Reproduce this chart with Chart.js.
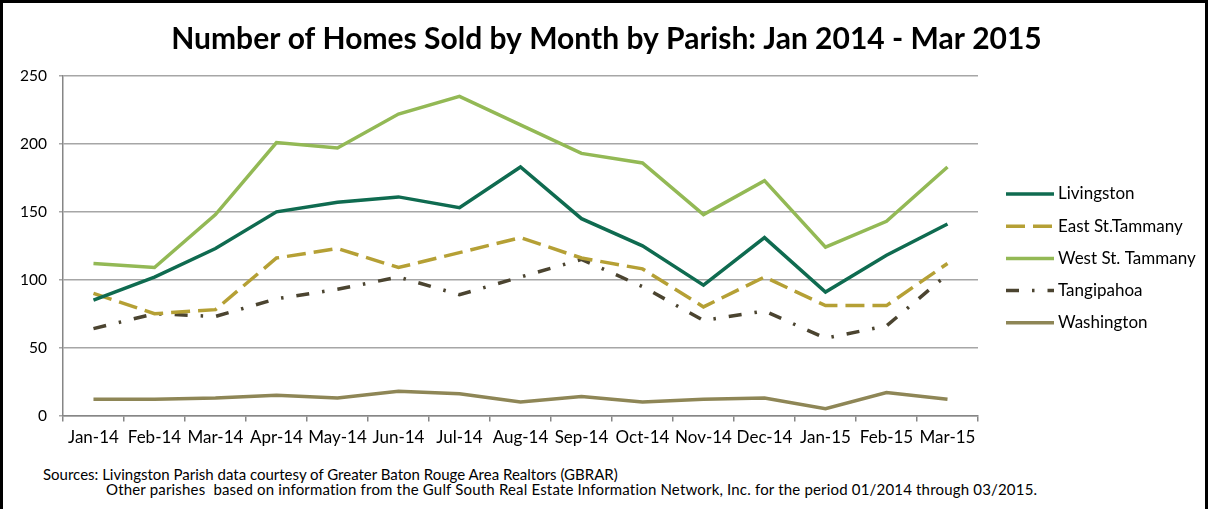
<!DOCTYPE html>
<html>
<head>
<meta charset="utf-8">
<script src="https://cdn.jsdelivr.net/npm/chart.js@4.4.1/dist/chart.umd.min.js"></script>
<style>
  html, body { margin: 0; padding: 0; background: #fff; }
  #frame {
    position: relative; width: 1202px; height: 506px;
    border-left: 3px solid #000; border-top: 3px solid #000; border-right: 3px solid #000;
    font-family: Lato, sans-serif;
  }
  #wrap { position: absolute; left: 0; top: 0; width: 1202px; height: 451px; }
  .src { position: absolute; font-size: 15px; line-height: 18px; color: #000; white-space: pre; }
</style>
</head>
<body>
<div id="frame">
  <div id="wrap"><canvas id="homesChart"></canvas></div>
  <div class="src" style="left:40px; top:462px;">Sources: Livingston Parish data courtesy of Greater Baton Rouge Area Realtors (GBRAR)</div>
  <div class="src" style="left:103px; top:477px; letter-spacing:0.18px;">Other parishes  based on information from the Gulf South Real Estate Information Network, Inc. for the period 01/2014 through 03/2015.</div>
</div>
<script>
// Data
const months = ["Jan-14", "Feb-14", "Mar-14", "Apr-14", "May-14", "Jun-14", "Jul-14", "Aug-14",
                "Sep-14", "Oct-14", "Nov-14", "Dec-14", "Jan-15", "Feb-15", "Mar-15"];
const livingston    = [85, 102, 123, 150, 157, 161, 153, 183, 145, 125, 96, 131, 91, 118, 141];
const eastTammany   = [90, 75, 78, 116, 123, 109, 120, 131, 116, 108, 80, 102, 81, 81, 112];
const westTammany   = [112, 109, 148, 201, 197, 222, 235, 214, 193, 186, 148, 173, 124, 143, 183];
const tangipahoa    = [64, 75, 73, 86, 93, 102, 89, 102, 115, 95, 70, 77, 57, 66, 104];
const washington    = [12, 12, 13, 15, 13, 18, 16, 10, 14, 10, 12, 13, 5, 17, 12];
const yTicks = [0, 50, 100, 150, 200, 250];

function series(label, values, color, dash) {
  return {
    label: label,
    data: values,
    borderColor: color,
    backgroundColor: color,
    borderWidth: 3.5,
    borderDash: dash,
    borderCapStyle: 'butt',
    pointRadius: 0,
    pointHoverRadius: 0,
    tension: 0,
    fill: false
  };
}

// legend drawn at the right, line sample + label
const sideLegend = {
  id: 'sideLegend',
  afterDraw(chart) {
    const ctx = chart.ctx;
    ctx.save();
    ctx.font = "17px Lato";
    ctx.textBaseline = "middle";
    chart.data.datasets.forEach((ds, i) => {
      const y = 191 + i * 32.2;
      ctx.beginPath();
      ctx.strokeStyle = ds.borderColor;
      ctx.lineWidth = ds.borderWidth;
      ctx.lineCap = 'butt';
      ctx.setLineDash(ds.borderDash || []);
      ctx.moveTo(1003, y);
      ctx.lineTo(1051, y);
      ctx.stroke();
      ctx.setLineDash([]);
      ctx.fillStyle = "#000";
      ctx.fillText(ds.label, 1055, y);
    });
    ctx.restore();
  }
};

const config = {
  type: 'line',
  data: {
    labels: months,
    datasets: [
      series("Livingston", livingston, "#0f6b50", []),
      series("East St.Tammany", eastTammany, "#b5a035", [19, 8]),
      series("West St. Tammany", westTammany, "#93b955", []),
      series("Tangipahoa", tangipahoa, "#4b4430", [13, 13, 2.5, 13]),
      series("Washington", washington, "#8e8656", [])
    ]
  },
  plugins: [sideLegend],
  options: {
    responsive: true,
    maintainAspectRatio: false,
    animation: false,
    layout: { padding: { left: 5, right: 0, top: 18, bottom: 0 } },
    plugins: {
      title: {
        display: true,
        text: "Number of Homes Sold by Month by Parish: Jan 2014 - Mar 2015",
        color: "#000",
        font: { family: "Lato", size: 30, weight: "bold" },
        padding: { top: 0, bottom: 19 }
      },
      legend: { display: false },
      tooltip: { enabled: false }
    },
    scales: {
      x: {
        offset: true,
        grid: { offset: true, drawOnChartArea: false, tickLength: 6, color: "#868686", lineWidth: 1.5 },
        border: { color: "#868686", width: 1.5 },
        ticks: { color: "#000", font: { family: "Lato", size: 17 }, maxRotation: 0, autoSkip: false, padding: 6 }
      },
      y: {
        min: 0,
        max: 250,
        afterBuildTicks: (axis) => { axis.ticks = yTicks.map(v => ({ value: v })); },
        grid: { color: "#a6a6a6", lineWidth: 1.5, tickLength: 4 },
        border: { color: "#868686", width: 1.5 },
        ticks: { color: "#000", font: { family: "Lato", size: 15.5 }, padding: 12 }
      },
      // empty right axis only keeps room for the legend
      yRight: {
        position: 'right',
        min: 0,
        max: 250,
        grid: { drawOnChartArea: false, display: false },
        border: { display: false },
        ticks: { display: false },
        afterFit: (axis) => { axis.width = 227; }
      }
    }
  }
};

window.addEventListener('DOMContentLoaded', (event) => {
  const homesChart = new Chart(document.getElementById("homesChart"), config);
});
</script>
</body>
</html>
